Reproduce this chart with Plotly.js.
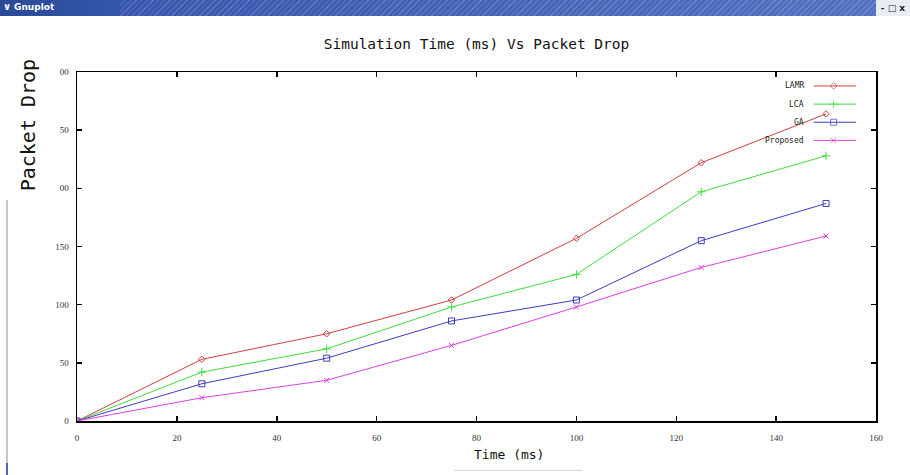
<!DOCTYPE html>
<html><head><meta charset="utf-8">
<script src="https://cdn.plot.ly/plotly-3.0.1.min.js"></script>
<style>
html,body{margin:0;padding:0;background:#fff;}
#wrap{position:relative;width:910px;height:475px;overflow:hidden;background:#fff;}
#chart{position:absolute;left:0;top:0;width:910px;height:475px;}
#titlebar{position:absolute;left:0;top:0;width:910px;height:16px;
 background:
  repeating-linear-gradient(135deg, rgba(255,255,255,0.16) 0px, rgba(255,255,255,0.16) 1px, rgba(255,255,255,0) 1px, rgba(255,255,255,0) 4px),
  linear-gradient(to right,#2d4c9e 0px,#3857ad 130px,#5274c2 100%);
 font-family:"DejaVu Sans",sans-serif;font-size:9px;color:#fff;}
#titlebar .solid{position:absolute;left:0;top:0;width:120px;height:16px;background:linear-gradient(to right,#2a4896,#3557aa);}
#titlebar .lbl{position:absolute;left:14px;top:2px;font-weight:bold;color:#fff;}
#titlebar .ico{position:absolute;left:3px;top:1px;font-weight:bold;color:#fff;font-size:10px;}
#titlebar .btns{position:absolute;right:0;top:0;width:34px;height:16px;background:#e8ecf4;color:#222;font-size:9px;font-weight:bold;line-height:16px;text-align:center;white-space:nowrap;}
#leftframe{position:absolute;left:6px;top:200px;width:2px;height:275px;background:#c8c8c8;}
#leftblue{position:absolute;left:6px;top:463px;width:2px;height:12px;background:#4a6ab8;}
#underline{position:absolute;left:454px;top:470px;width:128px;height:1px;background:#d8d8d8;}
</style>
</head><body>
<div id="wrap">
<div id="chart"></div>
<div id="titlebar"><div class="solid"></div><span class="ico">&#x2228;</span><span class="lbl">Gnuplot</span><div class="btns">- &#x25A1; x</div></div>
<div id="leftframe"></div><div id="leftblue"></div><div id="underline"></div>
</div>
<script>
// ---- data ----
const time = [0, 25, 50, 75, 100, 125, 150];
const lamr = [0, 53, 75, 104, 157, 222, 264];
const lca = [0, 42, 62, 98, 126, 197, 228];
const ga = [0, 32, 54, 86, 104, 155, 187];
const proposed = [0, 20, 35, 65, 98, 132, 159];
const seriesNames = ["LAMR", "LCA", "GA", "Proposed"];
const xTickVals = [0, 20, 40, 60, 80, 100, 120, 140, 160];
const xTickText = ["0", "20", "40", "60", "80", "100", "120", "140", "160"];
const yTickVals = [0, 50, 100, 150, 200, 250, 300];
const yTickText = ["0", "50", "100", "150", "00", "50", "00"];
const chartTitle = "Simulation Time (ms) Vs Packet Drop";
const xTitle = "Time (ms)";
const yTitle = "Packet Drop";

// ---- styles ----
const seriesData = [lamr, lca, ga, proposed];
const colors = ["#d04040", "#40dc40", "#3c3cc0", "#dc40dc"];
const symbols = ["diamond-open", "cross-thin-open", "square-open", "x-thin-open"];
const msize = [5, 6, 6, 5];

const traces = [];
seriesData.forEach((ys, i) => {
  traces.push({
    x: time, y: ys, type: "scatter", mode: "lines+markers", name: seriesNames[i],
    line: {color: colors[i], width: 1},
    marker: {symbol: symbols[i], size: msize[i], color: colors[i], line: {color: colors[i], width: 1}},
    showlegend: false, hoverinfo: "x+y+name"
  });
});

// legend samples (gnuplot style: text right-aligned, sample line to the right)
const legY = [0.960, 0.908, 0.856, 0.804];
const legX0 = 0.922, legXm = 0.947, legX1 = 0.975, legText = 0.912;
const annotations = [];
seriesNames.forEach((nm, i) => {
  traces.push({
    x: [legX0, legXm, legX1], y: [legY[i], legY[i], legY[i]],
    xaxis: "x2", yaxis: "y2", type: "scatter", mode: "lines+markers",
    line: {color: colors[i], width: 1},
    marker: {symbol: symbols[i], size: [0, msize[i], 0], color: colors[i], line: {color: colors[i], width: 1}},
    showlegend: false, hoverinfo: "skip"
  });
  annotations.push({
    text: nm, xref: "paper", yref: "paper", x: legText, y: legY[i],
    xanchor: "right", yanchor: "middle", showarrow: false,
    font: {family: "DejaVu Sans Mono, monospace", size: 8, color: "#222"}
  });
});

annotations.push({
  text: xTitle, xref: "paper", yref: "paper", x: 0.541, y: -0.097,
  xanchor: "center", yanchor: "middle", showarrow: false,
  font: {family: "DejaVu Sans Mono, monospace", size: 13, color: "#111"}
});
annotations.push({
  text: yTitle, xref: "paper", yref: "paper", x: -0.061, y: 0.848,
  xanchor: "center", yanchor: "middle", showarrow: false, textangle: -90,
  font: {family: "DejaVu Sans Mono, monospace", size: 20, color: "#111"}
});

const axisCommon = {
  showline: true, linecolor: "#000", linewidth: 1.5, mirror: "ticks",
  ticks: "inside", ticklen: 5, tickwidth: 1.5, tickcolor: "#000",
  showgrid: false, zeroline: false,
  tickfont: {family: "Liberation Serif, serif", size: 9, color: "#333"}
};

const layout = {
  width: 910, height: 475,
  margin: {l: 77, r: 34, t: 72, b: 54},
  paper_bgcolor: "#fff", plot_bgcolor: "#fff",
  title: {text: chartTitle, x: 0.5, xref: "paper", xanchor: "center", y: 0.908, yref: "container", yanchor: "middle",
          font: {family: "DejaVu Sans Mono, monospace", size: 14.5, color: "#111"}},
  xaxis: Object.assign({}, axisCommon, {range: [0, 160], tickvals: xTickVals, ticktext: xTickText, ticklabelstandoff: 8}),
  yaxis: Object.assign({}, axisCommon, {range: [0, 300], tickvals: yTickVals, ticktext: yTickText, ticklabelstandoff: 5}),
  xaxis2: {overlaying: "x", range: [0, 1], visible: false, fixedrange: true},
  yaxis2: {overlaying: "y", range: [0, 1], visible: false, fixedrange: true},
  annotations: annotations,
  showlegend: false
};

Plotly.newPlot("chart", traces, layout, {displayModeBar: false, staticPlot: true});
</script>
</body></html>
